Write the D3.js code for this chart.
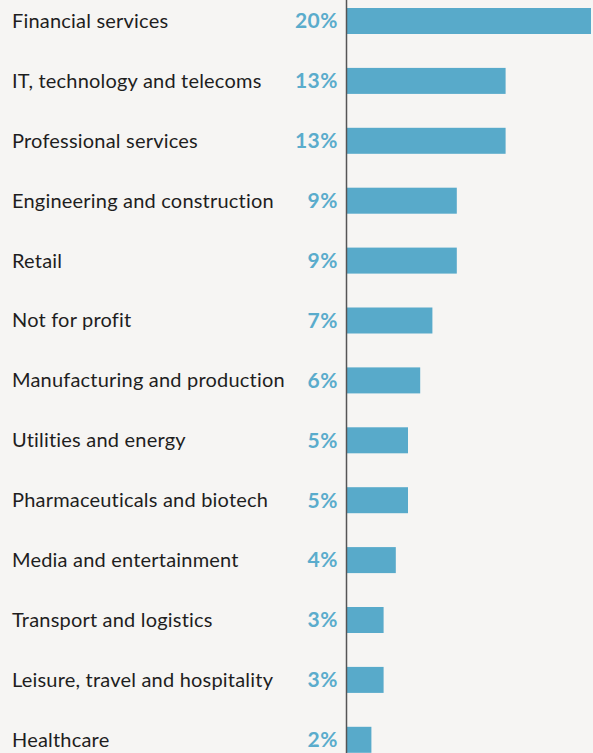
<!DOCTYPE html>
<html>
<head>
<meta charset="utf-8">
<script src="https://cdn.jsdelivr.net/npm/d3@7"></script>
<style>
  html, body { margin: 0; padding: 0; background: #f6f5f3; }
  svg { display: block; }
</style>
</head>
<body>
<div id="chart"></div>
<script>
// Share of respondents by sector
const sectors = [
  "Financial services",
  "IT, technology and telecoms",
  "Professional services",
  "Engineering and construction",
  "Retail",
  "Not for profit",
  "Manufacturing and production",
  "Utilities and energy",
  "Pharmaceuticals and biotech",
  "Media and entertainment",
  "Transport and logistics",
  "Leisure, travel and hospitality",
  "Healthcare"
];
const shares = [20, 13, 13, 9, 9, 7, 6, 5, 5, 4, 3, 3, 2];

const width = 593, height = 753;
const barColor = "#58aaca";
const valueColor = "#5aaccc";

const svg = d3.select("#chart").append("svg")
  .attr("width", width)
  .attr("height", height);

svg.append("rect").attr("width", width).attr("height", height).attr("fill", "#f6f5f3");

const x = d3.scaleLinear().domain([0, 20]).range([347, 591]);
const y = d3.scaleBand().domain(sectors).range([8, 752.8]).paddingInner(0.566).paddingOuter(0);

const rows = sectors.map((s, i) => ({ sector: s, value: shares[i] }));

svg.selectAll("rect.bar")
  .data(rows)
  .join("rect")
  .attr("class", "bar")
  .attr("x", x(0))
  .attr("y", d => y(d.sector))
  .attr("width", d => x(d.value) - x(0))
  .attr("height", y.bandwidth())
  .attr("fill", barColor);

svg.selectAll("text.sector")
  .data(rows)
  .join("text")
  .attr("class", "sector")
  .attr("x", 12)
  .attr("y", d => y(d.sector) + y.bandwidth() / 2)
  .attr("dy", "0.35em")
  .attr("font-family", "Lato, 'Open Sans', sans-serif")
  .attr("font-size", 20)
  .attr("letter-spacing", 0.2)
  .attr("fill", "#1e1e1e")
  .text(d => d.sector);

svg.selectAll("text.value")
  .data(rows)
  .join("text")
  .attr("class", "value")
  .attr("x", 338)
  .attr("y", d => y(d.sector) + y.bandwidth() / 2)
  .attr("dy", "0.35em")
  .attr("text-anchor", "end")
  .attr("font-family", "Lato, 'Open Sans', sans-serif")
  .attr("font-weight", "bold")
  .attr("font-size", 21)
  .attr("letter-spacing", 0.5)
  .attr("fill", valueColor)
  .text(d => d.value + "%");

// Baseline
svg.append("line")
  .attr("x1", x(0) - 0.5).attr("x2", x(0) - 0.5)
  .attr("y1", 0).attr("y2", height)
  .attr("stroke", "#555")
  .attr("stroke-width", 1.5);
</script>
</body>
</html>
